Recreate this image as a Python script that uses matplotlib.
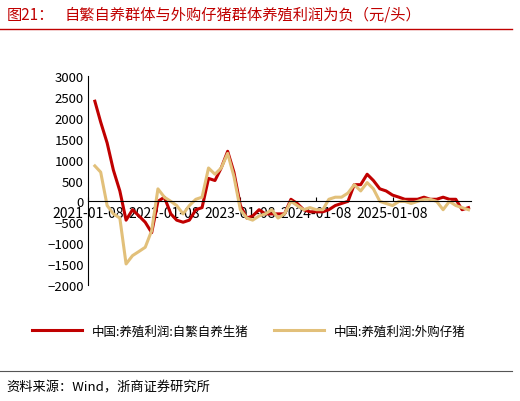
import numpy as np
import pandas as pd
import matplotlib
matplotlib.use('Agg')
import matplotlib.pyplot as plt

plt.rcParams['font.family'] = ['Noto Sans CJK SC', 'DejaVu Sans']

# monthly values, Jan 2021 .. Dec 2025
dates = pd.date_range('2021-01-08', periods=60, freq='MS') + pd.Timedelta(days=7)
self_bred = [2400, 1900, 1400, 750, 250, -450, -200, -350, -500, -750,
             0, 100, -300, -450, -500, -450, -200, -150, 550, 500,
             800, 1200, 700, -100, -400, -350, -200, -300, -300, -300,
             -300, 50, -50, -200, -250, -250, -250, -200, -100, -50,
             0, 400, 400, 650, 500, 300, 250, 150, 100, 50,
             50, 50, 100, 50, 50, 100, 50, 50, -200, -150]
bought = [850, 700, -100, -300, -400, -1500, -1300, -1200, -1100, -700,
          300, 100, 0, -100, -300, -100, 50, 100, 800, 650,
          800, 1150, 600, -200, -400, -450, -350, -300, -200, -400,
          -300, 0, -100, -200, -150, -200, -200, 50, 100, 100,
          200, 400, 250, 450, 300, 0, -50, -100, 0, 0,
          -50, 0, 50, 50, 0, -200, 0, -100, -150, -200]
ticks = pd.to_datetime(['2021-01-08', '2022-01-08', '2023-01-08', '2024-01-08', '2025-01-08'])

red = '#C00000'
gold = '#E2C07A'

fig = plt.figure(figsize=(5.2, 4.02), dpi=100)
fig.text(0.012, 0.962, '图21：', color=red, fontsize=11, va='center')
fig.text(0.125, 0.962, '自繁自养群体与外购仔猪群体养殖利润为负（元/头）', color=red, fontsize=11, va='center')
fig.add_artist(plt.Line2D([0.0, 0.985], [0.925, 0.925], color=red, lw=1))
fig.add_artist(plt.Line2D([0.0, 0.985], [0.075, 0.075], color='#555555', lw=0.8))
fig.text(0.012, 0.035, '资料来源：Wind，浙商证券研究所', fontsize=9.5, va='center')

ax = fig.add_axes([0.17, 0.289, 0.735, 0.519])
ax.plot(dates, self_bred, color=red, lw=2.2, label='中国:养殖利润:自繁自养生猪')
ax.plot(dates, bought, color=gold, lw=2.2, label='中国:养殖利润:外购仔猪')
ax.set_ylim(-2000, 3000)
ax.set_yticks(np.arange(-2000, 3001, 500))
ax.set_xlim(dates[0], dates[-1] + pd.Timedelta(days=10))
ax.set_xticks(ticks)
ax.set_xticklabels([t.strftime('%Y-%m-%d') for t in ticks], fontsize=9)
for lab in ax.get_xticklabels():
    lab.set_rotation(45)
    lab.set_ha('right')
    lab.set_rotation_mode('anchor')
ax.tick_params(axis='y', labelsize=9.5, length=0)
ax.tick_params(axis='x', length=3, direction='in')
for s in ['top', 'right']:
    ax.spines[s].set_visible(False)
ax.spines['bottom'].set_position(('data', 0))
ax.legend(loc='upper center', bbox_to_anchor=(0.42, -0.135), ncol=2, frameon=False,
          fontsize=9, handlelength=4, columnspacing=2)
fig.savefig('out.png', dpi=100)
